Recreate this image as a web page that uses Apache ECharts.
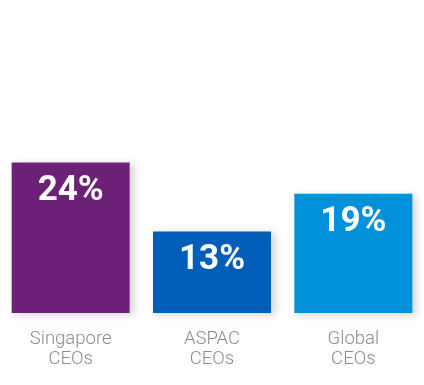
<!DOCTYPE html>
<html>
<head>
<meta charset="utf-8">
<script src="https://cdn.jsdelivr.net/npm/echarts@6/dist/echarts.min.js"></script>
<style>html,body{margin:0;padding:0;background:#fff;}#c{width:424px;height:385px;}</style>
</head>
<body>
<div id="c"></div>
<script>
var categories = ['Singapore\nCEOs', 'ASPAC\nCEOs', 'Global\nCEOs'];
var values = [24, 13, 19];
var colors = ['#6D2077', '#005EB8', '#0091DA'];

var chart = echarts.init(document.getElementById('c'), null, {renderer: 'canvas'});
chart.setOption({
  animation: false,
  backgroundColor: '#ffffff',
  grid: {left: 0, right: 0, bottom: 72, top: 62, containLabel: false},
  xAxis: {
    type: 'category',
    data: categories,
    axisLine: {show: false},
    axisTick: {show: false},
    axisLabel: {
      color: '#8c8c8c',
      fontFamily: 'Roboto, Arial, sans-serif',
      fontWeight: 300,
      fontSize: 18.5,
      lineHeight: 20,
      margin: 16
    }
  },
  yAxis: {
    type: 'value',
    min: 0,
    max: 40,
    show: false,
    splitLine: {show: false}
  },
  series: [{
    type: 'bar',
    barWidth: 118,
    data: values.map(function (v, i) {
      return {value: v, itemStyle: {color: colors[i]}};
    }),
    itemStyle: {
      shadowColor: 'rgba(0,0,0,0.18)',
      shadowBlur: 8,
      shadowOffsetX: 4,
      shadowOffsetY: 2
    },
    label: {
      show: true,
      position: 'insideTop',
      distance: 11,
      formatter: '{c}%',
      color: '#ffffff',
      fontFamily: 'Roboto, Arial, sans-serif',
      fontWeight: 'bold',
      fontSize: 35
    }
  }]
});
</script>
</body>
</html>
